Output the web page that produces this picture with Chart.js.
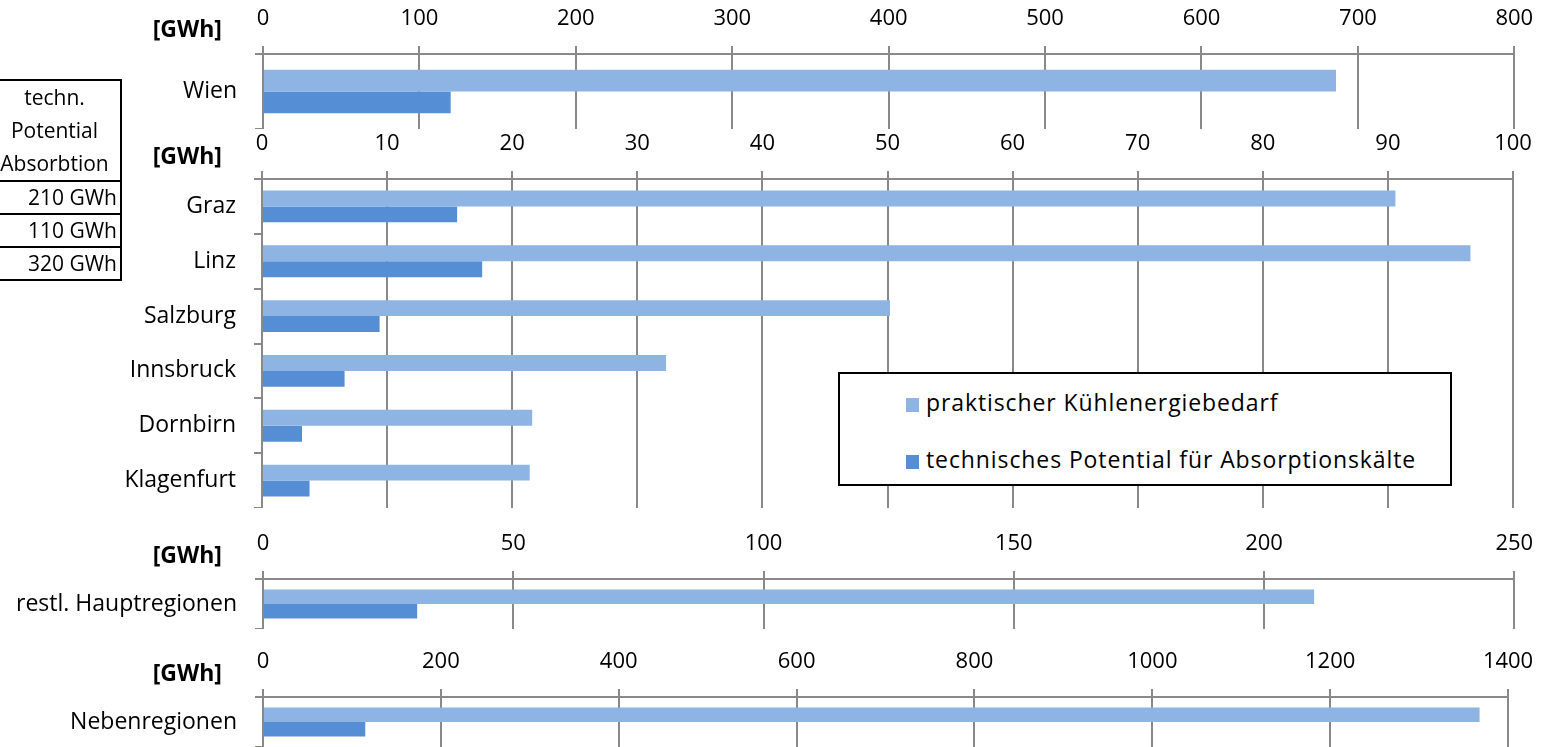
<!DOCTYPE html>
<html lang="de">
<head>
<meta charset="utf-8">
<title>Kühlenergiebedarf und Absorptionskälte</title>
<script src="https://cdn.jsdelivr.net/npm/chart.js@4.4.1/dist/chart.umd.min.js"></script>
<style>
html, body { margin: 0; padding: 0; background: #fff; overflow: hidden; }
body { width: 1547px; height: 747px; position: relative; font-family: "Open Sans", sans-serif; color: #000; }
canvas { position: absolute; left: 0; }
.unit { position: absolute; right: 1325px; font-weight: bold; font-size: 23px; line-height: 26px; white-space: nowrap; }
#legend { position: absolute; left: 838px; top: 372px; width: 610px; height: 110px; border: 2px solid #000; background: #fff; z-index: 5; }
.legend-item { position: absolute; left: 66px; font-size: 23px; letter-spacing: 0.9px; line-height: 26px; white-space: nowrap; }
.legend-item span { display: inline-block; width: 13px; height: 14px; margin-right: 7px; vertical-align: -1px; }
#summary { position: absolute; left: -13px; top: 79px; border-collapse: collapse; font-size: 21px; z-index: 5; }
#summary td { border: 2px solid #000; padding: 0 3px 0 0; width: 128px; height: 31px; text-align: right; line-height: 31px; white-space: nowrap; }
#summary td.head { text-align: center; height: 97px; padding: 0; line-height: 33px; }
</style>
</head>
<body>
<canvas id="wien" width="1547" height="125"></canvas>
<canvas id="staedte" width="1547" height="379"></canvas>
<canvas id="rest" width="1547" height="100"></canvas>
<canvas id="neben" width="1547" height="100"></canvas>

<div class="unit" style="top:15px">[GWh]</div>
<div class="unit" style="top:142px">[GWh]</div>
<div class="unit" style="top:541px">[GWh]</div>
<div class="unit" style="top:659px">[GWh]</div>

<table id="summary"></table>
<div id="legend"></div>

<script>
// series names and colours
const seriesNames = ['praktischer Kühlenergiebedarf', 'technisches Potential für Absorptionskälte'];
const seriesColors = ['#8EB4E3', '#558ED5'];

// Wien
const wienLabels = ['Wien'];
const wienPraktisch = [686];
const wienTechnisch = [120];

// other main cities
const staedteLabels = ['Graz', 'Linz', 'Salzburg', 'Innsbruck', 'Dornbirn', 'Klagenfurt'];
const staedtePraktisch = [90.6, 96.6, 50.2, 32.3, 21.6, 21.4];
const staedteTechnisch = [15.6, 17.6, 9.4, 6.6, 3.2, 3.8];

// remaining main regions
const restLabels = ['restl. Hauptregionen'];
const restPraktisch = [210];
const restTechnisch = [30.8];

// secondary regions
const nebenLabels = ['Nebenregionen'];
const nebenPraktisch = [1368];
const nebenTechnisch = [115];

// summary table on the left
const summaryHead = ['techn.', 'Potential', 'Absorbtion'];
const summaryRows = ['210 GWh', '110 GWh', '320 GWh'];

const gridColor = '#898989';
const fontFamily = 'Open Sans';
const fontSize = 22;
const axisHeight = 50;

function drawPanel(id, axisY, bottomY, left, right, labels, praktisch, technisch, max, step) {
    const canvas = document.getElementById(id);
    canvas.style.top = (axisY - axisHeight) + 'px';

    new Chart(canvas, {
        type: 'bar',
        data: {
            labels: labels,
            datasets: [
                { label: seriesNames[0], data: praktisch, backgroundColor: seriesColors[0] },
                { label: seriesNames[1], data: technisch, backgroundColor: seriesColors[1] }
            ]
        },
        options: {
            indexAxis: 'y',
            responsive: false,
            animation: false,
            categoryPercentage: 0.58,
            barPercentage: 1.0,
            layout: { padding: { top: 0, bottom: 0, left: 0, right: 1547 - right } },
            plugins: { legend: { display: false }, tooltip: { enabled: false } },
            scales: {
                x: {
                    position: 'top',
                    min: 0,
                    max: max,
                    ticks: {
                        stepSize: step,
                        padding: 35 - 8 - fontSize * 0.6,
                        color: '#000',
                        font: { family: fontFamily, size: fontSize },
                        callback: value => String(value)
                    },
                    grid: { color: gridColor, lineWidth: 2, tickLength: 8 },
                    border: { color: gridColor, width: 2 },
                    afterFit: s => { s.height = axisHeight; }
                },
                y: {
                    offset: true,
                    ticks: {
                        padding: 18,
                        color: '#000',
                        font: { family: fontFamily, size: 23 }
                    },
                    grid: { offset: true, drawOnChartArea: false, color: gridColor, lineWidth: 2, tickLength: 8 },
                    border: { color: gridColor, width: 2 },
                    afterFit: s => {
                        s.width = left;
                        // no extra room above/below for the category labels
                        s.paddingTop = 0;
                        s.paddingBottom = 0;
                    }
                }
            }
        }
    });
}

drawPanel('wien', 54, 129, 263, 1518, wienLabels, wienPraktisch, wienTechnisch, 800, 100);
drawPanel('staedte', 179, 508, 262, 1513, staedteLabels, staedtePraktisch, staedteTechnisch, 100, 10);
drawPanel('rest', 579, 629, 263, 1518, restLabels, restPraktisch, restTechnisch, 250, 50);
drawPanel('neben', 697, 747, 263, 1514, nebenLabels, nebenPraktisch, nebenTechnisch, 1400, 200);

// summary table
const table = document.getElementById('summary');
let tr = document.createElement('tr');
tr.innerHTML = `<td class="head">${summaryHead.join('<br>')}</td>`;
table.append(tr);
for (let row of summaryRows) {
    tr = document.createElement('tr');
    tr.innerHTML = `<td>${row}</td>`;
    table.append(tr);
}

// legend box
const legend = document.getElementById('legend');
const legendTops = [15, 72];
seriesNames.forEach((name, i) => {
    const item = document.createElement('div');
    item.className = 'legend-item';
    item.style.top = legendTops[i] + 'px';
    item.innerHTML = `<span style="background:${seriesColors[i]}"></span>${name}`;
    legend.append(item);
});
</script>
</body>
</html>
